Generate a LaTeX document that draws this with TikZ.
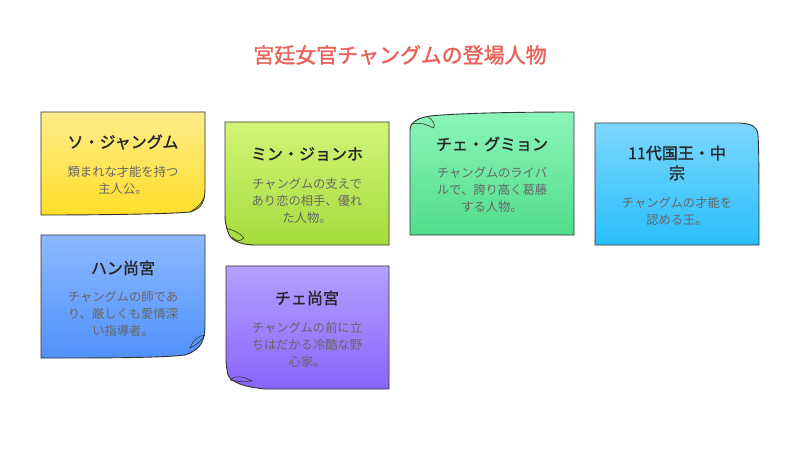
\documentclass[tikz,border=0pt]{standalone}
\usepackage{fontspec}
\setmainfont{Noto Sans CJK JP}
\newfontfamily\cjkb{Noto Sans CJK JP}[FakeBold=1.5]
\begin{document}
\begin{tikzpicture}[x=1pt,y=-1pt,
  note/.style={draw=black!80,line width=0.9pt},
  ttl/.style={font=\cjkb\fontsize{16}{20}\selectfont,text=black!85,align=center},
  txt/.style={font=\fontsize{12.3}{17}\selectfont,text=black!60,align=center}]
\useasboundingbox (0,0) rectangle (800,451);
\node[font=\cjkb\fontsize{21}{24}\selectfont,text={rgb,255:red,232;green,98;blue,88}] (title) at (400,55) {宮廷女官チャングムの登場人物};
% yellow
\shade[note,top color={rgb,255:red,255;green,236;blue,140},bottom color={rgb,255:red,255;green,222;blue,40}]
 (41,112) -- (205,112) -- (205,188) .. controls (205,200) and (203,208) .. (190,212) .. controls (170,214) and (100,215) .. (41,215) -- cycle;
\draw[black!80,line width=0.6pt] (205,196) .. controls (200,206) and (196,208) .. (190,212);
\node[ttl] (t1) at (123,142) {ソ・ジャングム};
\node[txt] (d1) at (123,180) {類まれな才能を持つ\\主人公。};
% green
\shade[note,top color={rgb,255:red,210;green,245;blue,120},bottom color={rgb,255:red,165;green,220;blue,60}]
 (225,122) -- (389,122) -- (389,245) -- (255,245) .. controls (240,245) and (230,240) .. (228,232) .. controls (226,226) and (225,222) .. (225,215) -- cycle;
\draw[black!80,line width=0.6pt] (226,228) .. controls (235,231) and (240,233) .. (244,238) .. controls (240,242) and (235,241) .. (232,237);
\node[ttl] (t2) at (307,154) {ミン・ジョンホ};
\node[txt] (d2) at (307,201) {チャングムの支えで\\あり恋の相手、優れ\\た人物。};
% blue
\shade[note,top color={rgb,255:red,140;green,185;blue,255},bottom color={rgb,255:red,80;green,145;blue,250}]
 (41,235) -- (205,235) -- (205,325) .. controls (205,342) and (200,350) .. (185,355) .. controls (160,358) and (100,358) .. (41,358) -- cycle;
\draw[black!80,line width=0.6pt] (205,335) .. controls (198,336) and (193,340) .. (190,348) .. controls (195,346) and (200,342) .. (205,335);
\node[ttl] (t3) at (123,268) {ハン尚宮};
\node[txt] (d3) at (123,314) {チャングムの師であ\\り、厳しくも愛情深\\い指導者。};
% purple
\shade[note,top color={rgb,255:red,180;green,160;blue,255},bottom color={rgb,255:red,135;green,100;blue,250}]
 (226,266) -- (389,266) -- (389,389) -- (265,389) .. controls (245,387) and (232,383) .. (228,375) .. controls (227,370) and (226,365) .. (226,360) -- cycle;
\draw[black!80,line width=0.6pt] (230,380) .. controls (236,375) and (242,376) .. (252,381) .. controls (245,382) and (238,382) .. (230,380);
\node[ttl] (t4) at (307,298) {チェ尚宮};
\node[txt] (d4) at (307,345) {チャングムの前に立\\ちはだかる冷酷な野\\心家。};
% mint
\shade[note,top color={rgb,255:red,140;green,245;blue,185},bottom color={rgb,255:red,80;green,220;blue,140}]
 (410,235) -- (410,130) .. controls (410,122) and (418,118) .. (430,116) .. controls (460,113) and (520,112) .. (574,112) -- (574,235) -- cycle;
\draw[black!80,line width=0.6pt] (412,124) .. controls (420,122) and (426,124) .. (433,128) .. controls (436,125) and (434,121) .. (428,117);
\node[ttl] (t5) at (492,144) {チェ・グミョン};
\node[txt] (d5) at (492,190) {チャングムのライバ\\ルで、誇り高く葛藤\\する人物。};
% cyan
\shade[note,top color={rgb,255:red,125;green,215;blue,255},bottom color={rgb,255:red,40;green,190;blue,250}]
 (595,123) -- (740,123) .. controls (752,124) and (757,126) .. (758,135) .. controls (759,150) and (759,180) .. (759,245) -- (595,245) -- cycle;
\node[ttl] (t6) at (677,163) {11代国王・中\\宗};
\node[txt] (d6) at (677,211) {チャングムの才能を\\認める王。};
\end{tikzpicture}
\end{document}
